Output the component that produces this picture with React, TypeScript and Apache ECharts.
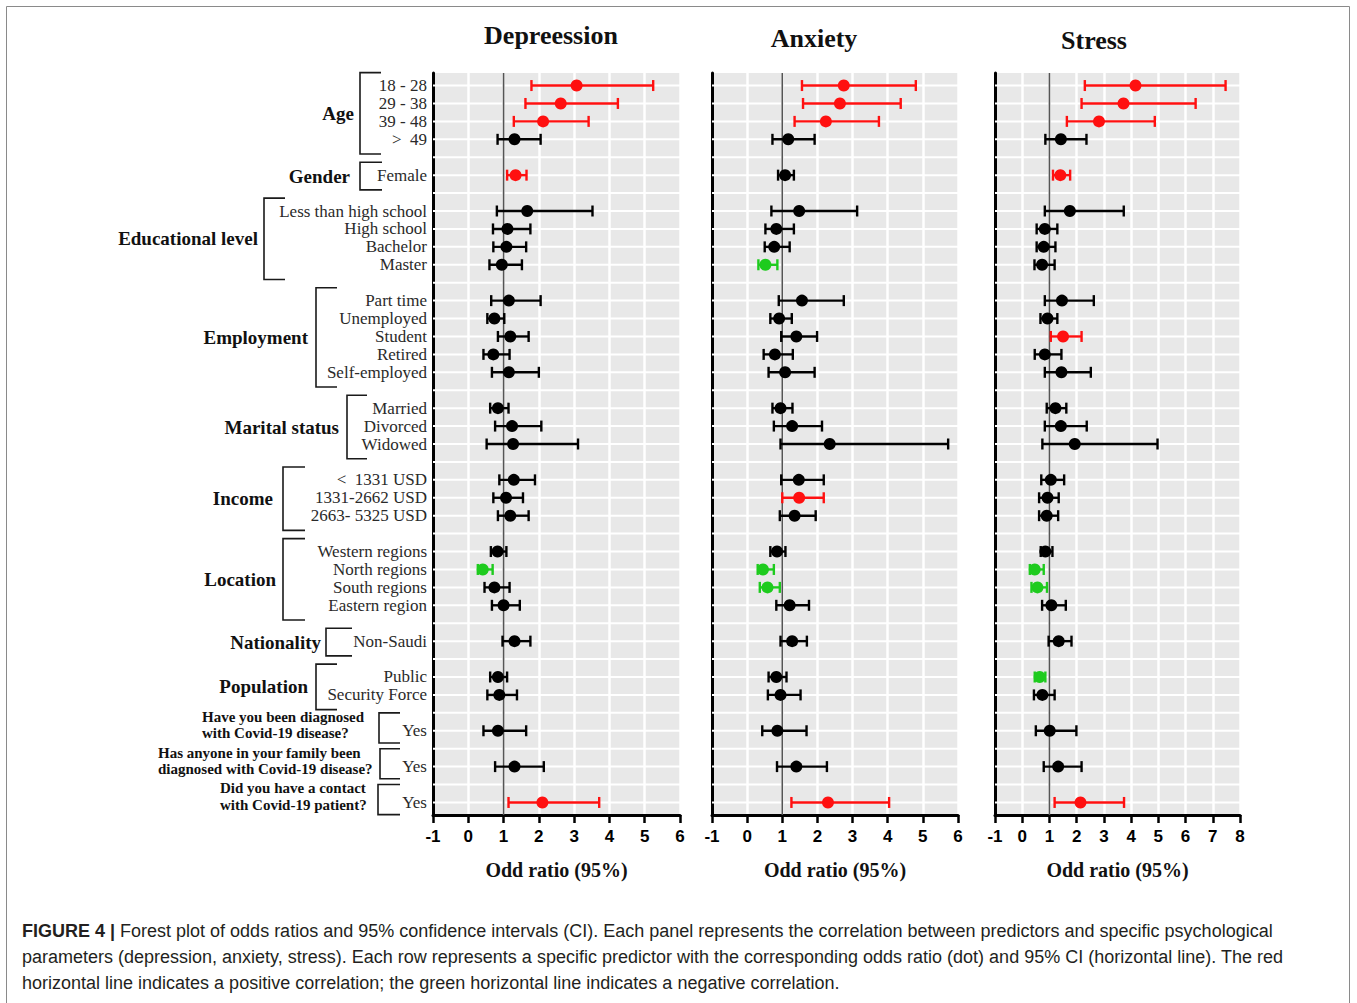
import { useEffect, useRef } from 'react';
import * as echarts from 'echarts';

// ---------------- data ----------------
const panelTitles = ['Depreession', 'Anxiety', 'Stress'];
const axisMin = -1;
const axisMax = [6, 6, 8];

const predictors = [
  '18 - 28', '29 - 38', '39 - 48', '>  49',
  'Female',
  'Less than high school', 'High school', 'Bachelor', 'Master',
  'Part time', 'Unemployed', 'Student', 'Retired', 'Self-employed',
  'Married', 'Divorced', 'Widowed',
  '<  1331 USD', '1331-2662 USD', '2663- 5325 USD',
  'Western regions', 'North regions', 'South regions', 'Eastern region',
  'Non-Saudi',
  'Public', 'Security Force',
  'Yes', 'Yes', 'Yes',
];
const predictorRows = [0, 1, 2, 3, 5, 7, 8, 9, 10, 12, 13, 14, 15, 16, 18, 19, 20, 22, 23, 24, 26, 27, 28, 29, 31, 33, 34, 36, 38, 40];
const rowCount = 41;

const groupNames = ['Age', 'Gender', 'Educational level', 'Employment', 'Marital status', 'Income', 'Location', 'Nationality', 'Population'];
const groupFirstRow = [0, 5, 7, 12, 18, 22, 26, 31, 33];
const groupLastRow = [3, 5, 10, 16, 20, 24, 29, 31, 34];

const questionLines = [
  ['Have you been diagnosed', 'with Covid-19 disease?'],
  ['Has anyone in your family been', 'diagnosed with Covid-19 disease?'],
  ['Did you have a contact', 'with Covid-19 patient?'],
];
const questionRows = [36, 38, 40];

// Depression
const depOR = [3.07, 2.62, 2.12, 1.31, 1.34, 1.67, 1.11, 1.08, 0.95, 1.15, 0.74, 1.19, 0.71, 1.15, 0.84, 1.24, 1.27, 1.29, 1.07, 1.19, 0.83, 0.41, 0.74, 1.0, 1.31, 0.84, 0.88, 0.84, 1.31, 2.1];
const depLow = [1.79, 1.62, 1.29, 0.83, 1.1, 0.81, 0.7, 0.71, 0.6, 0.65, 0.54, 0.84, 0.43, 0.67, 0.62, 0.76, 0.52, 0.88, 0.71, 0.84, 0.64, 0.27, 0.46, 0.67, 0.97, 0.62, 0.54, 0.43, 0.76, 1.14];
const depHigh = [5.24, 4.24, 3.41, 2.05, 1.65, 3.52, 1.76, 1.64, 1.52, 2.05, 1.02, 1.71, 1.17, 2.0, 1.14, 2.07, 3.11, 1.89, 1.55, 1.71, 1.08, 0.69, 1.17, 1.46, 1.76, 1.1, 1.38, 1.64, 2.14, 3.71];
const depSig = ['r', 'r', 'r', 'n', 'r', 'n', 'n', 'n', 'n', 'n', 'n', 'n', 'n', 'n', 'n', 'n', 'n', 'n', 'n', 'n', 'n', 'g', 'n', 'n', 'n', 'n', 'n', 'n', 'n', 'r'];

// Anxiety
const anxOR = [2.75, 2.64, 2.24, 1.17, 1.08, 1.48, 0.83, 0.77, 0.52, 1.56, 0.91, 1.4, 0.79, 1.08, 0.95, 1.28, 2.35, 1.47, 1.48, 1.35, 0.85, 0.45, 0.58, 1.21, 1.28, 0.83, 0.95, 0.86, 1.4, 2.3];
const anxLow = [1.56, 1.59, 1.35, 0.72, 0.88, 0.69, 0.52, 0.5, 0.32, 0.9, 0.66, 0.97, 0.47, 0.61, 0.72, 0.76, 0.95, 0.97, 1.0, 0.93, 0.66, 0.3, 0.36, 0.83, 0.95, 0.61, 0.59, 0.43, 0.85, 1.26];
const anxHigh = [4.8, 4.37, 3.75, 1.92, 1.33, 3.13, 1.33, 1.21, 0.86, 2.75, 1.27, 1.99, 1.3, 1.92, 1.29, 2.13, 5.72, 2.18, 2.18, 1.95, 1.09, 0.76, 0.93, 1.76, 1.7, 1.12, 1.52, 1.69, 2.27, 4.04];
const anxSig = ['r', 'r', 'r', 'n', 'n', 'n', 'n', 'n', 'g', 'n', 'n', 'n', 'n', 'n', 'n', 'n', 'n', 'n', 'r', 'n', 'n', 'g', 'g', 'n', 'n', 'n', 'n', 'n', 'n', 'r'];

// Stress
const strOR = [4.16, 3.72, 2.82, 1.42, 1.4, 1.75, 0.83, 0.79, 0.73, 1.46, 0.93, 1.5, 0.83, 1.44, 1.22, 1.42, 1.93, 1.05, 0.93, 0.9, 0.85, 0.46, 0.56, 1.07, 1.34, 0.64, 0.74, 1.01, 1.32, 2.14];
const strLow = [2.3, 2.18, 1.64, 0.85, 1.13, 0.83, 0.53, 0.53, 0.45, 0.83, 0.67, 1.05, 0.46, 0.83, 0.9, 0.83, 0.74, 0.7, 0.62, 0.62, 0.68, 0.28, 0.34, 0.73, 0.97, 0.46, 0.43, 0.5, 0.79, 1.19];
const strHigh = [7.47, 6.37, 4.87, 2.36, 1.76, 3.73, 1.29, 1.22, 1.19, 2.63, 1.29, 2.18, 1.44, 2.52, 1.62, 2.37, 4.97, 1.54, 1.34, 1.32, 1.11, 0.79, 0.91, 1.6, 1.81, 0.85, 1.19, 1.99, 2.18, 3.74];
const strSig = ['r', 'r', 'r', 'n', 'r', 'n', 'n', 'n', 'n', 'n', 'n', 'r', 'n', 'n', 'n', 'n', 'n', 'n', 'n', 'n', 'n', 'g', 'g', 'n', 'n', 'g', 'n', 'n', 'n', 'r'];

const captionLines = [
  'Forest plot of odds ratios and 95% confidence intervals (CI). Each panel represents the correlation between predictors and specific psychological',
  'parameters (depression, anxiety, stress). Each row represents a specific predictor with the corresponding odds ratio (dot) and 95% CI (horizontal line). The red',
  'horizontal line indicates a positive correlation; the green horizontal line indicates a negative correlation.',
];

// ---------------- layout / style ----------------
const panelOR = [depOR, anxOR, strOR];
const panelLow = [depLow, anxLow, strLow];
const panelHigh = [depHigh, anxHigh, strHigh];
const panelSig = [depSig, anxSig, strSig];

const gridLayout = [
  { left: 433, top: 73, width: 247, height: 742 },
  { left: 712, top: 73, width: 246, height: 742 },
  { left: 995, top: 73, width: 245, height: 742 },
];
const titlePos = [[551, 35], [814, 38], [1094, 40]];
const groupLabelRight = [354, 350, 258, 308, 339, 273, 276, 321, 308];
const groupBracketX = [360, 360, 264, 316, 347, 283, 283, 326, 316];
const groupBracketEnd = [381, 382, 285, 337, 367, 305, 305, 352, 337];
const questionLeft = [202, 158, 220];
const questionBracketX = [379, 380, 378];
const questionBracketEnd = 400;

const sigColor: Record<string, string> = { r: '#ff1010', g: '#1ecb1e', n: '#000000' };
const SERIF = '"Liberation Serif", "Times New Roman", serif';
const SANS = '"Liberation Sans", Arial, sans-serif';
const CAPTION_FONT = 18;
const yMin = -0.7;
const yMax = 40.7;

function txt(x: number, y: number, text: string, font: string, align: string, fill = '#111') {
  return {
    type: 'text',
    x,
    y,
    silent: true,
    style: {
      text,
      font,
      fill,
      align,
      verticalAlign: 'middle',
      textAlign: align,
      textVerticalAlign: 'middle',
    },
  };
}

function buildOption() {
  const grid = gridLayout.map((g) => ({ ...g, show: true, backgroundColor: '#e8e8e8', borderWidth: 0 }));

  const xAxis = axisMax.map((mx, i) => ({
    type: 'value',
    gridIndex: i,
    min: axisMin,
    max: mx,
    interval: 1,
    axisLine: { show: true, onZero: false, lineStyle: { color: '#000', width: 3 } },
    axisTick: { show: true, length: 8, lineStyle: { color: '#000', width: 2.5 } },
    axisLabel: { color: '#000', fontFamily: SANS, fontWeight: 'bold', fontSize: 17, margin: 13 },
    splitLine: { show: true, lineStyle: { color: '#ffffff', width: 2.5 } },
    name: 'Odd ratio (95%)',
    nameLocation: 'middle',
    nameGap: 45,
    nameTextStyle: { fontFamily: SERIF, fontWeight: 'bold', fontSize: 20, color: '#111' },
  }));

  const yAxis = axisMax.map((_, i) => ({
    type: 'value',
    gridIndex: i,
    inverse: true,
    min: yMin,
    max: yMax,
    axisLine: { show: true, onZero: false, lineStyle: { color: '#000', width: 3 } },
    axisTick: { show: false },
    splitLine: { show: false },
    axisLabel:
      i === 0
        ? {
            show: true,
            customValues: predictorRows,
            formatter: (v: number) => {
              const k = predictorRows.indexOf(Math.round(v));
              return k >= 0 && Math.abs(v - Math.round(v)) < 1e-6 ? predictors[k] : '';
            },
            color: '#2a2a2a',
            fontFamily: SERIF,
            fontSize: 17,
            margin: 6,
          }
        : { show: false },
  }));

  const series: any[] = [];
  axisMax.forEach((mx, p) => {
    const rows = Array.from({ length: rowCount }, (_, i) => [axisMin, i]);
    series.push({
      type: 'custom',
      xAxisIndex: p,
      yAxisIndex: p,
      z: 1,
      silent: true,
      data: rows,
      encode: { x: 0, y: 1 },
      renderItem: (_params: any, api: any) => {
        const r = api.value(1);
        const a = api.coord([axisMin, r]);
        const b = api.coord([mx, r]);
        return {
          type: 'line',
          shape: { x1: a[0], y1: a[1], x2: b[0], y2: b[1] },
          style: { stroke: '#ffffff', lineWidth: 2 },
        };
      },
    });
    // reference line at OR = 1
    series.push({
      type: 'custom',
      xAxisIndex: p,
      yAxisIndex: p,
      z: 2,
      silent: true,
      data: [[1, yMin]],
      encode: { x: 0, y: 1 },
      renderItem: (_params: any, api: any) => {
        const a = api.coord([api.value(0), yMin]);
        const b = api.coord([api.value(0), yMax]);
        return {
          type: 'line',
          shape: { x1: a[0], y1: a[1], x2: b[0], y2: b[1] },
          style: { stroke: '#555555', lineWidth: 1.6 },
        };
      },
    });
    // error bars
    const sig = panelSig[p];
    series.push({
      type: 'custom',
      xAxisIndex: p,
      yAxisIndex: p,
      z: 3,
      silent: true,
      data: predictorRows.map((r, k) => [r, panelLow[p][k], panelHigh[p][k]]),
      encode: { x: [1, 2], y: 0 },
      renderItem: (params: any, api: any) => {
        const r = api.value(0);
        const a = api.coord([api.value(1), r]);
        const b = api.coord([api.value(2), r]);
        const c = sigColor[sig[params.dataIndex]];
        const h = 5.5;
        const st = { stroke: c, lineWidth: 2.4 };
        return {
          type: 'group',
          children: [
            { type: 'line', shape: { x1: a[0], y1: a[1], x2: b[0], y2: b[1] }, style: st },
            { type: 'line', shape: { x1: a[0], y1: a[1] - h, x2: a[0], y2: a[1] + h }, style: st },
            { type: 'line', shape: { x1: b[0], y1: b[1] - h, x2: b[0], y2: b[1] + h }, style: st },
          ],
        };
      },
    });
    // odds-ratio dots
    series.push({
      type: 'scatter',
      xAxisIndex: p,
      yAxisIndex: p,
      z: 4,
      silent: true,
      symbol: 'circle',
      symbolSize: 12,
      data: predictorRows.map((r, k) => ({
        value: [panelOR[p][k], r],
        itemStyle: { color: sigColor[sig[k]], opacity: 1 },
      })),
    });
  });

  // group labels + brackets
  series.push({
    type: 'custom',
    xAxisIndex: 0,
    yAxisIndex: 0,
    z: 5,
    silent: true,
    clip: false,
    data: groupNames.map((_, g) => [axisMin, groupFirstRow[g], groupLastRow[g]]),
    encode: { x: 0, y: [1, 2] },
    renderItem: (params: any, api: any) => {
      const g = params.dataIndex;
      const f = api.value(1);
      const l = api.value(2);
      const top = api.coord([axisMin, f - 0.72])[1];
      const bot = api.coord([axisMin, l + 0.82])[1];
      const mid = api.coord([axisMin, (f + l) / 2])[1];
      const bx = groupBracketX[g];
      const be = groupBracketEnd[g];
      return {
        type: 'group',
        children: [
          {
            type: 'polyline',
            shape: { points: [[be, top], [bx, top], [bx, bot], [be, bot]] },
            style: { stroke: '#1a1a1a', lineWidth: 1.6, fill: 'none' },
          },
          txt(groupLabelRight[g], mid + 1, groupNames[g], `bold 19px ${SERIF}`, 'right'),
        ],
      };
    },
  });

  // question labels + brackets
  series.push({
    type: 'custom',
    xAxisIndex: 0,
    yAxisIndex: 0,
    z: 5,
    silent: true,
    clip: false,
    data: questionRows.map((r) => [axisMin, r]),
    encode: { x: 0, y: 1 },
    renderItem: (params: any, api: any) => {
      const q = params.dataIndex;
      const r = api.value(1);
      const top = api.coord([axisMin, r - 1.0])[1];
      const bot = api.coord([axisMin, r + 0.68])[1];
      const c1 = api.coord([axisMin, r - 0.78])[1];
      const c2 = api.coord([axisMin, r + 0.13])[1];
      const bx = questionBracketX[q];
      return {
        type: 'group',
        children: [
          {
            type: 'polyline',
            shape: { points: [[questionBracketEnd, top], [bx, top], [bx, bot], [questionBracketEnd, bot]] },
            style: { stroke: '#1a1a1a', lineWidth: 1.6, fill: 'none' },
          },
          txt(questionLeft[q], c1, questionLines[q][0], `bold 15px ${SERIF}`, 'left'),
          txt(questionLeft[q], c2, questionLines[q][1], `bold 15px ${SERIF}`, 'left'),
        ],
      };
    },
  });

  const graphic: any[] = [
    {
      type: 'rect',
      silent: true,
      shape: { x: 6.5, y: 6.5, width: 1343, height: 1010 },
      style: { fill: 'none', stroke: '#8a8a8a', lineWidth: 1 },
    },
    ...panelTitles.map((t, i) => txt(titlePos[i][0], titlePos[i][1], t, `bold 26px ${SERIF}`, 'center')),
    {
      type: 'text',
      x: 22,
      y: 931,
      silent: true,
      style: {
        text: `{b|FIGURE 4 |} ${captionLines[0]}`,
        font: `${CAPTION_FONT}px ${SANS}`,
        fill: '#231f20',
        verticalAlign: 'middle',
        textVerticalAlign: 'middle',
        rich: { b: { fontWeight: 'bold', fontSize: CAPTION_FONT, fontFamily: SANS, fill: '#231f20' } },
      },
    },
    txt(22, 957, captionLines[1], `${CAPTION_FONT}px ${SANS}`, 'left', '#231f20'),
    txt(22, 983, captionLines[2], `${CAPTION_FONT}px ${SANS}`, 'left', '#231f20'),
  ];

  return {
    animation: false,
    backgroundColor: '#ffffff',
    grid,
    xAxis,
    yAxis,
    series,
    graphic,
  };
}

export default function App() {
  const ref = useRef<HTMLDivElement>(null);
  useEffect(() => {
    if (!ref.current) return;
    const chart = echarts.init(ref.current, undefined, { renderer: 'svg' });
    chart.setOption(buildOption() as any);
    return () => chart.dispose();
  }, []);
  return (
    <div
      ref={ref}
      style={{ position: 'absolute', left: 0, top: 0, width: 1357, height: 1003, background: '#fff' }}
    />
  );
}
